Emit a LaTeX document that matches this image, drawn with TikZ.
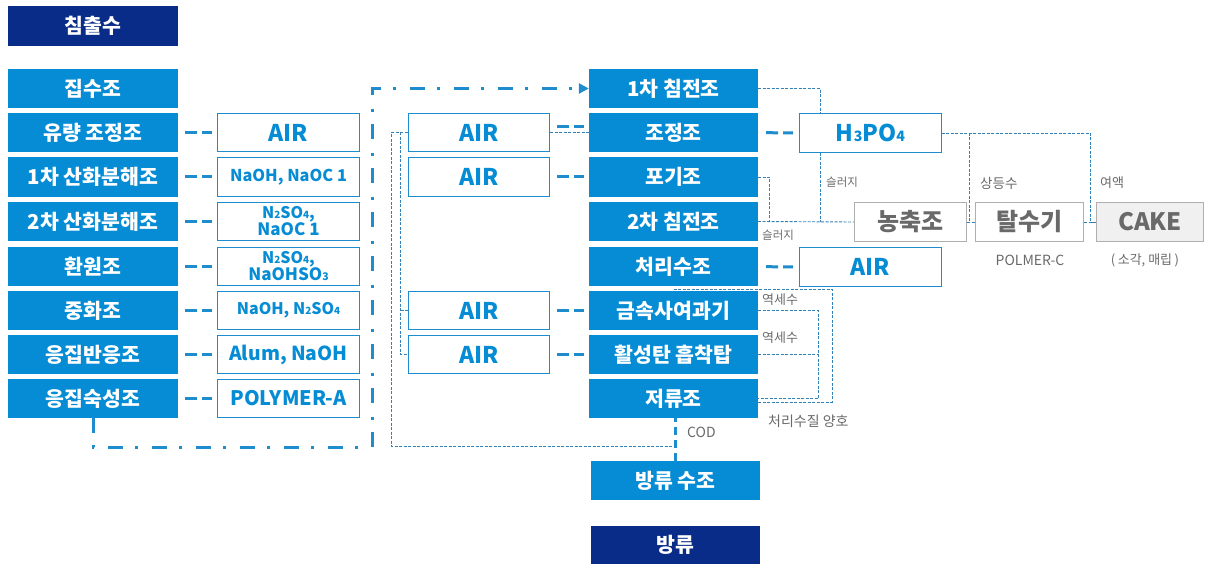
\documentclass[tikz,border=0pt]{standalone}
\usepackage{fontspec}
\usepackage{graphicx}
\setmainfont{Noto Sans CJK KR}
\usetikzlibrary{arrows.meta,calc}
\definecolor{bx}{RGB}{6,140,212}
\definecolor{navy}{RGB}{8,44,136}
\definecolor{ln}{RGB}{30,140,205}
\definecolor{thinc}{RGB}{50,130,185}
\definecolor{gtxt}{RGB}{105,105,105}
\definecolor{gbord}{RGB}{175,175,175}
\newcommand{\dg}[1]{\scalebox{0.62}{#1}}
\newcommand{\fsz}[1]{\fontsize{#1}{#1}\selectfont}
\tikzset{
  bluebox/.style={fill=bx, text=white, font=\fontsize{20.5}{20.5}\selectfont\bfseries, minimum width=170pt, minimum height=39.5pt, inner sep=0pt},
  navybox/.style={bluebox, fill=navy},
  chem/.style={draw=ln, line width=1.4pt, fill=white, text=bx, font=\fontsize{17}{17}\selectfont\bfseries, minimum width=141.5pt, minimum height=38.5pt, inner sep=0pt, align=center},
  airbox/.style={chem, font=\fontsize{23}{23}\selectfont\bfseries},
  gbox/.style={draw=gbord, line width=1.2pt, text=gtxt, font=\fontsize{24}{24}\selectfont\bfseries, minimum height=38.5pt, inner sep=0pt},
  thickdash/.style={ln, line width=3pt, dash pattern=on 12pt off 5pt},
  thinl/.style={thinc, line width=0.9pt, dash pattern=on 3pt off 1.5pt},
  dashdot/.style={ln, line width=3pt, dash pattern=on 15pt off 12pt on 3pt off 14pt},
  lbl/.style={text=gtxt, font=\fontsize{12.5}{12.5}\selectfont, inner sep=0pt, anchor=west},
}
\begin{document}
\begin{tikzpicture}[x=1pt,y=-1pt]
\useasboundingbox (0,0) rectangle (1210,564);
% left column
\node[navybox] (L0) at (93,26) {침출수};
\node[bluebox] (L1) at (93,88.5) {집수조};
\node[bluebox] (L2) at (93,132.5) {유량 조정조};
\node[bluebox] (L3) at (93,177) {1차 산화분해조};
\node[bluebox] (L4) at (93,221.5) {2차 산화분해조};
\node[bluebox] (L5) at (93,266.5) {환원조};
\node[bluebox] (L6) at (93,310.5) {중화조};
\node[bluebox] (L7) at (93,354.5) {응집반응조};
\node[bluebox] (L8) at (93,398.5) {응집숙성조};
% chemicals
\node[airbox] (C2) at (288.5,132.5) {AIR};
\node[chem] (C3) at (288.5,177) {\fsz{16.3}NaOH, NaOC 1};
\node[chem] (C4) at (288.5,221.5) {\fontsize{16}{17.5}\selectfont N\dg{2}SO\dg{4},\\NaOC 1};
\node[chem] (C5) at (288.5,266.5) {\fontsize{16}{17.5}\selectfont N\dg{2}SO\dg{4},\\NaOHSO\dg{3}};
\node[chem] (C6) at (288.5,310.5) {\fsz{16}NaOH, N\dg{2}SO\dg{4}};
\node[chem] (C7) at (288.5,354.5) {\fsz{19.3}Alum, NaOH};
\node[chem] (C8) at (288.5,398.5) {\fsz{20}POLYMER-A};
% middle AIR
\node[airbox] (A2) at (479,132.5) {AIR};
\node[airbox] (A3) at (479,177) {AIR};
\node[airbox] (A6) at (479,310.5) {AIR};
\node[airbox] (A7) at (479,354.5) {AIR};
% main column
\node[bluebox, minimum width=169pt] (M1) at (673.5,88.5) {1차 침전조};
\node[bluebox, minimum width=169pt] (M2) at (673.5,132.5) {조정조};
\node[bluebox, minimum width=169pt] (M3) at (673.5,177) {포기조};
\node[bluebox, minimum width=169pt] (M4) at (673.5,221.5) {2차 침전조};
\node[bluebox, minimum width=169pt] (M5) at (673.5,266.5) {처리수조};
\node[bluebox, minimum width=169pt] (M6) at (673.5,310.5) {금속사여과기};
\node[bluebox, minimum width=169pt] (M7) at (673.5,354.5) {활성탄 흡착탑};
\node[bluebox, minimum width=169pt] (M8) at (673.5,398.5) {저류조};
\node[bluebox, minimum width=169pt] (M9) at (675.5,480.5) {방류 수조};
\node[navybox, minimum width=169pt, minimum height=38pt] (M10) at (675.5,545) {방류};
% right
\node[airbox] (H) at (870.5,133) {H\dg{3}PO\dg{4}};
\node[airbox] (A5) at (870.5,267) {AIR};
\node[gbox, minimum width=112pt] (K1) at (910.5,222) {농축조};
\node[gbox, minimum width=108pt] (K2) at (1029.5,222) {탈수기};
\node[gbox, minimum width=107pt, fill=gray!12] (K3) at (1150,222) {CAKE};
% thick dashed connectors
\foreach \i in {2,...,8}{\draw[thickdash, shorten <=7pt, shorten >=5pt] (L\i) -- (C\i);}
\foreach \i in {3,6,7}{\draw[thickdash, shorten <=7pt, shorten >=5pt] (A\i) -- (M\i);}
\draw[thickdash, shorten <=7pt, shorten >=5pt] ([yshift=5.5pt]A2.east) -- ([yshift=5.5pt]M2.west);
\draw[thinl] (A2) -- (M2);
\draw[thickdash, shorten <=8pt, shorten >=6pt] (M2) -- (H);
\draw[thickdash, shorten <=8pt, shorten >=6pt] (M5) -- (A5);
% dash-dot return
\coordinate (dd1) at (372,447);
\coordinate (dd2) at (dd1 |- M1.west);
\draw[dashdot, -{Triangle[length=10pt,width=10pt]}] (L8.south) |- (dd1) -- (dd2) -- (M1.west);
% COD
\draw[thickdash, dash pattern=on 8pt off 5pt] (M9.north) -- (M9.north |- M8.south);
\node[lbl, font=\fsz{14}] (t10) at (687,432) {COD};
% thin lines left
\coordinate (j5) at ([shift={(-3pt,14pt)}]M9.north);
\draw[thinl] (A2.west) -- ++(-16,0) |- (j5);
\draw[thinl] ([xshift=-7pt]A2.west) |- (A7.west);
\draw[thinl] ([xshift=-7pt]A6.west) -- (A6.west);
% thin lines right
\coordinate (h1) at ([xshift=-50.5pt]H.north);
\draw[thinl] (M1.east) -| (h1);
\coordinate (j1) at ([xshift=-50.5pt]H.south |- K1.west);
\draw[thinl] ([xshift=-50.5pt]H.south) -- (j1);
\draw[thinl] (M4.east) -- (K1.west);
\coordinate (j2) at ([xshift=11pt]M3.east |- K1.west);
\draw[thinl] (M3.east) -| (j2);
\draw[thinl] (H.east) -| ([xshift=-5pt]K3.west) -- (K3.west);
\coordinate (j3) at ([xshift=2pt]K1.east |- H.east);
\draw[thinl] (j3) -- (j3 |- K1.east);
\draw[thinl] (K1) -- (K2);
\draw[thinl] (K2) -- (K3);
% backwash loops
\coordinate (o1) at ([yshift=-3pt]M5.south);
\coordinate (o2) at ([shift={(74pt,-3.5pt)}]M8.east);
\draw[thinl] (o1) -| (o2) -- (o2 -| M8.east);
\coordinate (i1) at ([xshift=60pt]M8.east);
\draw[thinl] (M6.east) -| (i1) -- (M8.east);
\draw[thinl] (M7.east) -- (M7.east -| i1);
% labels
\node[lbl, font=\fsz{11.5}] (t1) at (826,182) {슬러지};
\node[lbl, font=\fsz{11.5}] (t2) at (762,235) {슬러지};
\node[lbl, font=\fsz{13.5}] (t3) at (980,183) {상등수};
\node[lbl, font=\fsz{13}] (t4) at (1100,183) {여액};
\node[lbl, anchor=center, font=\fsz{14}] (t5) at (1030,260) {POLMER-C};
\node[lbl, anchor=center, font=\fsz{13}] (t6) at (1145,260) {(\hspace{2.5pt}소각, 매립\hspace{2.5pt})};
\node[lbl, font=\fsz{13}] (t7) at (762,300) {역세수};
\node[lbl, font=\fsz{13}] (t8) at (762,338) {역세수};
\node[lbl, font=\fsz{14}] (t9) at (768,421) {처리수질 양호};
\end{tikzpicture}
\end{document}
